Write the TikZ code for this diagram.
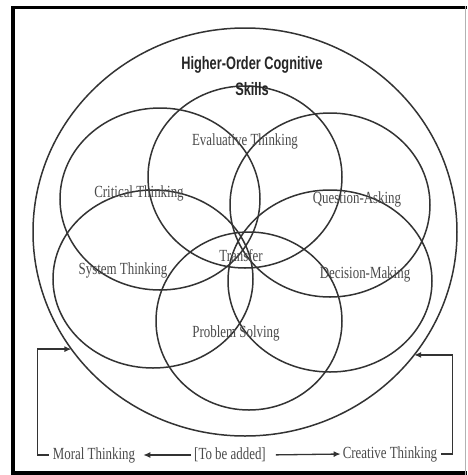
\documentclass[tikz,border=0pt]{standalone}
\usepackage{fontspec}
\setmainfont{Liberation Serif}[FakeStretch=0.76]
\newfontfamily\titlefont{Liberation Sans}[FakeStretch=0.71]
\usetikzlibrary{shapes.geometric,arrows.meta}
\definecolor{ln}{HTML}{333333}
\definecolor{tx}{HTML}{4A4A4A}
\begin{document}
\begin{tikzpicture}[x=1pt,y=-1pt,
  ring/.style={ellipse, draw=ln, line width=1.5pt, inner sep=0pt, outer sep=0pt},
  lbl/.style={text=tx, font=\fontsize{17}{19}\selectfont, inner sep=1pt},
  conn/.style={draw=ln, line width=1.3pt},
  tipend/.style={-{Latex[length=7pt,width=6pt]}}
]
\useasboundingbox (0,0) rectangle (467,475);
\fill[white] (0,0) rectangle (467,475);
% frame
\fill[black] (11,6) rectangle (15,475);
\fill[black] (11,6) rectangle (467,8.5);
\fill[black] (11,471) rectangle (467,475);
\draw[gray!60, line width=0.8pt] (465.5,6) -- (465.5,475);
% outer ellipse
\node[ring, minimum width=424pt, minimum height=408pt] (outer) at (245,232) {};
% inner ellipses
\node[ring, minimum width=194pt, minimum height=182pt] (evalring) at (245,177) {};
\node[ring, minimum width=200pt, minimum height=182pt] (critring) at (160,199) {};
\node[ring, minimum width=200pt, minimum height=184pt] (questring) at (330,205) {};
\node[ring, minimum width=200pt, minimum height=178pt] (sysring) at (153,279) {};
\node[ring, minimum width=204pt, minimum height=182pt] (decring) at (330,281) {};
\node[ring, minimum width=186pt, minimum height=178pt] (probring) at (249,321) {};
% title
\node[font=\titlefont\bfseries\fontsize{18}{26}\selectfont, align=center, text=black!85] (title) at (252,76) {Higher-Order Cognitive\\Skills};
% labels
\node[lbl] (evaluative) at (245,141) {Evaluative Thinking};
\node[lbl] (critical) at (139,193) {Critical Thinking};
\node[lbl] (question) at (357,199) {Question-Asking};
\node[lbl] (system) at (123,270) {System Thinking};
\node[lbl] (transfer) at (241,256) {Transfer};
\node[lbl] (decision) at (365,274) {Decision-Making};
\node[lbl] (problem) at (236,333) {Problem Solving};
\node[lbl] (moral) at (94,455) {Moral Thinking};
\node[lbl] (tobe) at (230,455) {[To be added]};
\node[lbl] (creative) at (390,454) {Creative Thinking};
% connectors
\coordinate (ltip) at (outer.214);
\coordinate (rtip) at (outer.324);
\draw[conn,tipend] (moral.west) ++(-3,0) -- ++(-11,0) |- (ltip);
\draw[conn,tipend] (creative.east) ++(3,0) -- ++(11,0) |- (rtip);
\draw[conn,tipend,shorten <=2pt,shorten >=7pt] (tobe.west) -- (moral.east);
\draw[conn,tipend,shorten <=9pt,shorten >=1pt] (tobe.east) -- (creative.west);
\end{tikzpicture}
\end{document}
